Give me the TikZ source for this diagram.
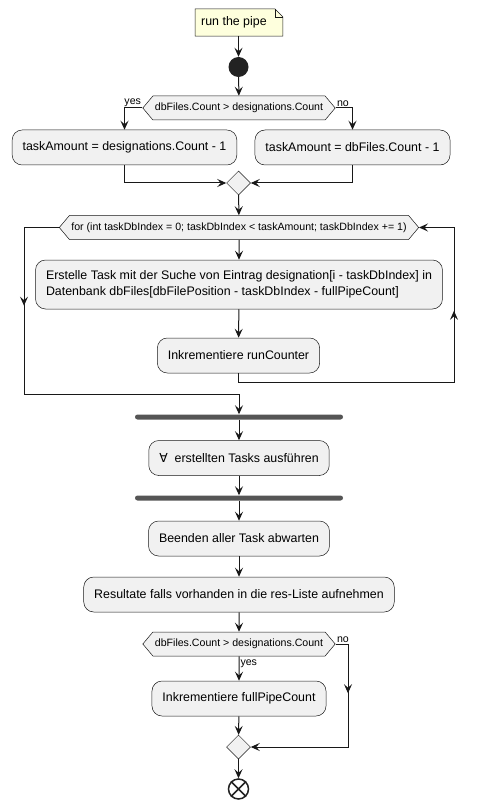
\documentclass[tikz,border=0pt]{standalone}
\usepackage{fontspec}
\setmainfont{Liberation Sans}
\newfontfamily\symfont{DejaVu Sans}
\usetikzlibrary{shapes.geometric, shapes.symbols, arrows.meta, decorations.markings, backgrounds}

\definecolor{actfill}{HTML}{F1F1F1}
\definecolor{actline}{HTML}{181818}
\definecolor{notefill}{HTML}{FEFFDD}
\definecolor{barcol}{HTML}{555555}
\definecolor{dotcol}{HTML}{222222}

\tikzset{
    pipetip/.tip={Stealth[length=9pt, width=8pt, inset=3.5pt]},
    act/.style={draw=actline, line width=0.5pt, fill=actfill, rounded corners=10pt,
                minimum height=35pt, inner xsep=10.5pt},
    cond/.style={draw=actline, line width=0.5pt, fill=actfill, signal, signal to=west and east,
                 signal from=nowhere, signal pointer angle=100, minimum height=24pt,
                 inner xsep=2pt, inner ysep=0pt, font=\fontsize{10.6}{13}\selectfont},
    merge/.style={draw=actline, line width=0.5pt, fill=actfill, diamond, minimum size=24pt, inner sep=0pt},
    bar/.style={fill=barcol, rounded corners=2.5pt, minimum width=208pt, minimum height=5pt, inner sep=0pt},
    notebox/.style={anchor=west, inner xsep=6pt, minimum height=27pt},
    lbl/.style={font=\fontsize{10.6}{13}\selectfont, inner sep=1pt},
    flow/.style={-pipetip, draw=actline, line width=1pt},
    midtip/.style={postaction={decorate},
                   decoration={markings, mark=at position #1 with {\arrow{pipetip}}}}
}

\begin{document}
\begin{tikzpicture}[
    x=1pt, y=-1pt,
    every node/.style={font=\fontsize{12.4}{15.5}\selectfont}
]
\useasboundingbox (0,0) rectangle (480,810);

% note and start
\node[notebox] (note) at (195,22.5) {run the pipe};
\begin{scope}[on background layer]
  \filldraw[fill=notefill, draw=actline, line width=0.5pt]
    (note.south west) -- (note.north west) -- ([xshift=2pt]note.north east)
    -- ([xshift=10pt,yshift=-8pt]note.north east) -- ([xshift=10pt]note.south east) -- cycle;
  \draw[actline, line width=0.5pt] ([xshift=2pt]note.north east) |- ([xshift=10pt,yshift=-8pt]note.north east);
\end{scope}
\node[circle, fill=dotcol, minimum size=20pt, inner sep=0pt] (start) at (238.5,67) {};

% first decision
\node[cond] (c1) at (239,108) {dbFiles.Count > designations.Count};
\node[act] (t1) at (124.5,147.5) {taskAmount = designations.Count - 1};
\node[act] (t2) at (352.5,147.5) {taskAmount = dbFiles.Count - 1};
\node[merge] (m1) at (238.5,183) {};

% loop
\node[cond] (loop) at (239,227.5) {for (int taskDbIndex = 0; taskDbIndex < taskAmount; taskDbIndex += 1)};
\node[act, align=left, minimum height=49pt] (b1) at (239,284.5)
  {Erstelle Task mit der Suche von Eintrag designation[i - taskDbIndex] in\\
   Datenbank dbFiles[dbFilePosition - taskDbIndex - fullPipeCount]};
\node[act] (b2) at (238.5,355.5) {Inkrementiere runCounter};
\coordinate (backR) at (454,382);
\coordinate (exitL) at (24,394);

% fork / join
\node[bar] (fork) at (239,417) {};
\node[act] (a1) at (239,458) {{\symfont ∀}~ erstellten Tasks ausführen};
\node[bar] (join) at (239,498) {};
\node[act] (a2) at (239,538.5) {Beenden aller Task abwarten};
\node[act] (a3) at (239,594.5) {Resultate falls vorhanden in die res-Liste aufnehmen};

% second decision
\node[cond] (c2) at (239,644) {dbFiles.Count > designations.Count};
\node[act] (inc) at (239,698.5) {Inkrementiere fullPipeCount};
\node[merge] (m2) at (238.5,747) {};
\coordinate (noR) at (348,747);
\node[circle, draw=dotcol, line width=1.5pt, fill=white, minimum size=20pt, inner sep=0pt] (stop) at (238.5,789) {};
\draw[dotcol, line width=1.5pt] (stop.north west) -- (stop.south east) (stop.north east) -- (stop.south west);

% connectors
\draw[flow] (note.south -| start) -- (start);
\draw[flow] (start) -- (c1);
\draw[flow] (c1.west) node[lbl, above left] {yes} -| (t1.north);
\draw[flow] (c1.east) node[lbl, above right] {no} -| (t2.north);
\draw[flow] (t1.south) |- (m1.west);
\draw[flow] (t2.south) |- (m1.east);
\draw[flow] (m1) -- (loop);
\draw[flow] (loop) -- (b1);
\draw[flow] (b1) -- (b2);
\draw[flow, midtip=0.714] (b2.south) |- (backR) |- (loop.east);
\draw[flow, midtip=0.259] (loop.west) -| (exitL) -| (fork.north);
\draw[flow] (fork) -- (a1);
\draw[flow] (a1) -- (join);
\draw[flow] (join) -- (a2);
\draw[flow] (a2) -- (a3);
\draw[flow] (a3) -- (c2);
\draw[flow] (c2) -- node[lbl, right, pos=0.3] {yes} (inc);
\draw[flow, midtip=0.29] (c2.east) node[lbl, above right] {no} -| (noR) -- (m2.east);
\draw[flow] (inc) -- (m2);
\draw[flow] (m2) -- (stop);
\end{tikzpicture}
\end{document}
